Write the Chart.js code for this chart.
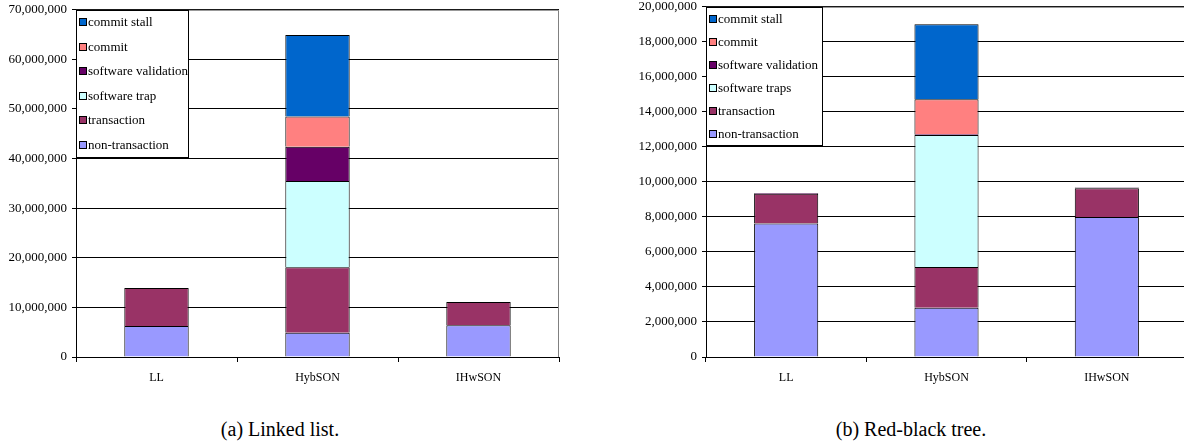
<!DOCTYPE html>
<html>
<head>
<meta charset="utf-8">
<script src="https://cdn.jsdelivr.net/npm/chart.js@4"></script>
<style>
  body { margin: 0; background: #fff; width: 1184px; height: 442px; position: relative; overflow: hidden; }
  canvas { position: absolute; }
  #chartLL { left: 0; top: -3px; }
  #chartRB { left: 620px; top: -6px; }
  .caption { position: absolute; top: 418px; font: 20px 'Liberation Serif', serif; color: #000; transform: translateX(-50%); white-space: nowrap; }
</style>
</head>
<body>
<canvas id="chartLL" width="600" height="395"></canvas>
<canvas id="chartRB" width="567" height="395"></canvas>
<div class="caption" style="left:280px">(a) Linked list.</div>
<div class="caption" style="left:911px">(b) Red-black tree.</div>
<script>
// categories (x axis)
const categories = ['LL', 'HybSON', 'IHwSON'];

// (a) Linked list, values per category
const llNonTransaction = [6250000, 4900000, 6400000];
const llTransaction = [7650000, 13200000, 4700000];
const llSoftwareTrap = [null, 17400000, null];
const llSoftwareValidation = [null, 6900000, null];
const llCommit = [null, 6100000, null];
const llCommitStall = [null, 16400000, null];
const llTicks = [0, 10000000, 20000000, 30000000, 40000000, 50000000, 60000000, 70000000];

// (b) Red-black tree, values per category
const rbNonTransaction = [7630000, 2810000, 8000000];
const rbTransaction = [1700000, 2330000, 1640000];
const rbSoftwareTraps = [null, 7540000, null];
const rbSoftwareValidation = [40000, 40000, 40000];
const rbCommit = [null, 2000000, null];
const rbCommitStall = [null, 4290000, null];
const rbTicks = [0, 2000000, 4000000, 6000000, 8000000, 10000000, 12000000, 14000000, 16000000, 18000000, 20000000];

// Excel-style palette
const colors = {
  nonTransaction: '#9999ff',
  transaction: '#993366',
  softwareTrap: '#ccffff',
  softwareValidation: '#660066',
  commit: '#ff8080',
  commitStall: '#0066cc'
};

const serif = "'Liberation Serif', serif";
Chart.defaults.font.family = serif;

function fmt(n) {
  return n.toString().replace(/\B(?=(\d{3})+(?!\d))/g, ',');
}

// legend box drawn over the top-left corner of the plot area
const boxLegend = {
  id: 'boxLegend',
  afterDraw(chart, args, opts) {
    const ctx = chart.ctx;
    const area = chart.chartArea;
    const x = Math.round(area.left), y = Math.round(area.top);
    ctx.save();
    ctx.fillStyle = '#fff';
    ctx.fillRect(x, y, opts.width, opts.height);
    ctx.strokeStyle = '#000';
    ctx.lineWidth = 1;
    ctx.strokeRect(x + 0.5, y + 0.5, opts.width, opts.height);
    const items = chart.data.datasets.slice().reverse();
    const rowH = opts.height / items.length;
    ctx.font = '13px ' + serif;
    ctx.textBaseline = 'middle';
    items.forEach((ds, i) => {
      const cy = Math.round(y + rowH * (i + 0.5));
      ctx.fillStyle = ds.backgroundColor;
      ctx.fillRect(x + 3, cy - 4, 8, 8);
      ctx.strokeStyle = '#000';
      ctx.strokeRect(x + 3.5, cy - 3.5, 7, 7);
      ctx.fillStyle = '#000';
      ctx.fillText(ds.label, x + 12, cy + 1);
    });
    ctx.restore();
  }
};

// gray frame on the top and right edges of the plot
const plotFrame = {
  id: 'plotFrame',
  beforeDatasetsDraw(chart) {
    const ctx = chart.ctx;
    const a = chart.chartArea;
    ctx.save();
    ctx.strokeStyle = '#808080';
    ctx.lineWidth = 1;
    ctx.beginPath();
    ctx.moveTo(a.left, a.top + 0.5);
    ctx.lineTo(a.right - 0.5, a.top + 0.5);
    ctx.lineTo(a.right - 0.5, a.bottom);
    ctx.stroke();
    ctx.restore();
  }
};

function makeDataset(label, data, color) {
  return {
    label: label,
    data: data,
    backgroundColor: color,
    borderColor: '#000',
    borderWidth: 1,
    categoryPercentage: 1,
    barPercentage: 0.4
  };
}

function makeChart(id, datasets, ticks, yWidth, pad, legendSize) {
  return new Chart(document.getElementById(id), {
    type: 'bar',
    data: { labels: categories, datasets: datasets },
    plugins: [plotFrame, boxLegend],
    options: {
      responsive: false,
      animation: false,
      devicePixelRatio: 1,
      layout: { padding: pad },
      plugins: {
        legend: { display: false },
        tooltip: { enabled: false },
        boxLegend: legendSize
      },
      scales: {
        x: {
          stacked: true,
          grid: { offset: true, drawOnChartArea: false, color: '#000', tickLength: 5 },
          border: { color: '#000' },
          ticks: { color: '#000', font: { family: serif, size: 12 }, padding: 9, maxRotation: 0 },
          afterFit: s => { s.height = 30; }
        },
        y: {
          stacked: true,
          min: ticks[0],
          max: ticks[ticks.length - 1],
          afterBuildTicks: s => { s.ticks = ticks.map(v => ({ value: v })); },
          grid: { color: '#000', tickLength: 4 },
          border: { color: '#000' },
          ticks: { color: '#000', font: { family: serif, size: 13 }, padding: 5, callback: v => fmt(v) },
          afterFit: s => { s.width = yWidth; }
        }
      }
    }
  });
}

makeChart('chartLL', [
  makeDataset('non-transaction', llNonTransaction, colors.nonTransaction),
  makeDataset('transaction', llTransaction, colors.transaction),
  makeDataset('software trap', llSoftwareTrap, colors.softwareTrap),
  makeDataset('software validation', llSoftwareValidation, colors.softwareValidation),
  makeDataset('commit', llCommit, colors.commit),
  makeDataset('commit stall', llCommitStall, colors.commitStall)
], llTicks, 76, { top: 11, right: 41, bottom: 5, left: 0 }, { width: 112, height: 147 });

makeChart('chartRB', [
  makeDataset('non-transaction', rbNonTransaction, colors.nonTransaction),
  makeDataset('transaction', rbTransaction, colors.transaction),
  makeDataset('software traps', rbSoftwareTraps, colors.softwareTrap),
  makeDataset('software validation', rbSoftwareValidation, colors.softwareValidation),
  makeDataset('commit', rbCommit, colors.commit),
  makeDataset('commit stall', rbCommitStall, colors.commitStall)
], rbTicks, 86, { top: 8, right: 0, bottom: 2, left: 0 }, { width: 116, height: 138 });
</script>
</body>
</html>
